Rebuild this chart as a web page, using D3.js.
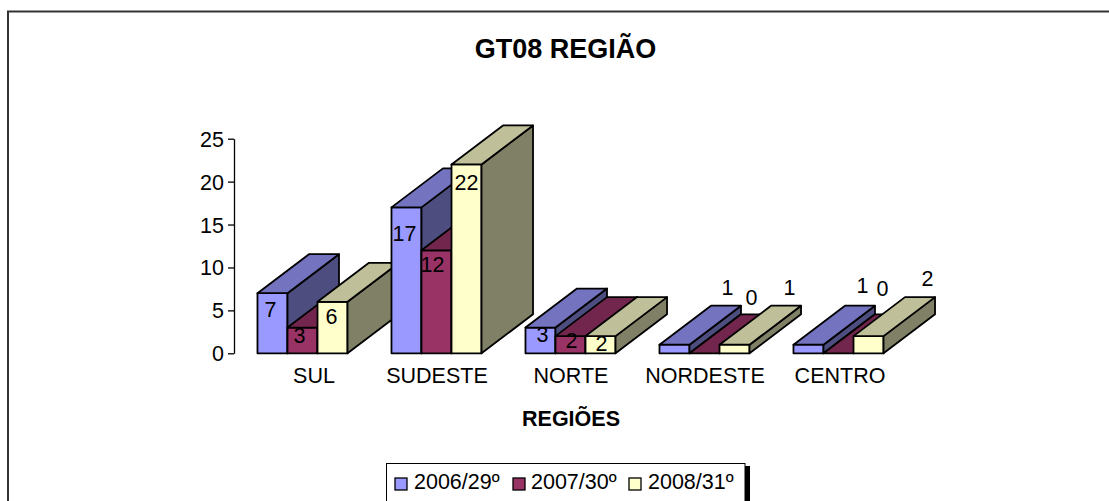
<!DOCTYPE html>
<html><head><meta charset="utf-8">
<script src="https://cdnjs.cloudflare.com/ajax/libs/d3/7.8.5/d3.min.js"></script>
<style>html,body{margin:0;padding:0;background:#fff;overflow:hidden}svg{display:block}text{font-family:"Liberation Sans",Arial,sans-serif;fill:#000}</style>
</head><body><div id="c"></div>
<script>
const categories = ["SUL","SUDESTE","NORTE","NORDESTE","CENTRO"];
const seriesNames = ["2006/29º","2007/30º","2008/31º"];
const values2006 = [7,17,3,1,1];
const values2007 = [3,12,2,0,0];
const values2008 = [6,22,2,1,2];
const yTicks = [0,5,10,15,20,25];
const title = "GT08 REGIÃO";
const xTitle = "REGIÕES";

// layout (separate from the data)
const W=1109,H=501, fs=21.5;
const colors=[{f:"#9999FF",t:"#7373BF",s:"#4D4D80"},{f:"#993366",t:"#73264D",s:"#4D1A33"},{f:"#FFFFCC",t:"#BFBF99",s:"#808066"}];
const labelOffsets=[
 [[-2,16],[-3,8],[-1,15]],
 [[-2,26],[-4,14],[0,18]],
 [[2,7],[1,4],[1,7]],
 [[53,-57],[47,-56],[55,-57]],
 [[54,-59],[44,-65],[59,-58]]];
const depth={x:51.5,y:-39};

const allSeries=[values2006,values2007,values2008];
const svg=d3.select("#c").append("svg").attr("width",W).attr("height",H);
const x=d3.scaleBand().domain(categories).range([235.5,905.5]).paddingInner(.328).paddingOuter(.164);
const xs=d3.scaleBand().domain(d3.range(3)).range([0,x.bandwidth()]);
const y=d3.scaleLinear().domain([0,25]).range([353.3,138.7]);

function label(t,px,py,o={}){
  return svg.append("text").attr("x",px).attr("y",py)
    .attr("text-anchor",o.anchor||"middle").attr("font-size",o.fs||fs)
    .attr("font-weight",o.bold?"bold":"normal").text(t);
}
// frame
svg.append("path").attr("d",`M${W},11.5H8V${H}`).attr("fill","none").attr("stroke","#333").attr("stroke-width",2);

label(title,565.5,58,{bold:true,fs:27});

// y axis
const ax=svg.append("g").attr("transform","translate(234,0)").call(d3.axisLeft(y).tickValues(yTicks).tickSize(6).tickSizeOuter(0));
ax.select(".domain").attr("stroke","#000").attr("stroke-width",1.3);
ax.selectAll(".tick line").attr("stroke","#000").attr("stroke-width",1.3);
ax.selectAll(".tick text").attr("font-size",fs).attr("font-family",'"Liberation Sans"').attr("fill","#000")
  .attr("x",-10).attr("dy","0.35em");

// bars, painted left to right
const bars=svg.append("g").attr("stroke","#000").attr("stroke-width",1.8).attr("stroke-linejoin","round");
categories.forEach((c,i)=>{
  allSeries.forEach((vals,j)=>{
    const v=vals[i], x0=x(c)+xs(j), x1=x0+xs.bandwidth(), yt=y(v), yb=y(0), dx=depth.x, dy=depth.y;
    if(v>0) bars.append("rect").attr("x",x0).attr("y",yt).attr("width",x1-x0).attr("height",yb-yt).attr("fill",colors[j].f);
    bars.append("path").attr("d",`M${x1},${yt}L${x1+dx},${yt+dy}V${yb+dy}L${x1},${yb}Z`).attr("fill",colors[j].s);
    bars.append("path").attr("d",`M${x0},${yt}L${x0+dx},${yt+dy}H${x1+dx}L${x1},${yt}Z`).attr("fill",colors[j].t);
  });
});
// value labels
categories.forEach((c,i)=>allSeries.forEach((vals,j)=>{
  const [ox,oy]=labelOffsets[i][j];
  label(vals[i],x(c)+xs(j)+xs.bandwidth()/2+ox,y(vals[i])+oy+7.5);
}));
// category labels
const catCenters=[314,437,571,705,840];
categories.forEach((c,i)=>label(c,catCenters[i],383));
label(xTitle,571,425.5,{bold:true,fs:21.5});

// legend
svg.append("rect").attr("x",745).attr("y",466).attr("width",5).attr("height",40).attr("fill","#000");
svg.append("rect").attr("x",386.5).attr("y",463.5).attr("width",358.5).attr("height",60).attr("fill","#fff").attr("stroke","#000").attr("stroke-width",1);
const swatchX=[395,513,629], textX=[414,531,648];
seriesNames.forEach((n,j)=>{
  svg.append("rect").attr("x",swatchX[j]).attr("y",478).attr("width",12).attr("height",12).attr("fill",colors[j].f).attr("stroke","#000").attr("stroke-width",1.3);
  label(n,textX[j],489,{anchor:"start"});
});
</script></body></html>
